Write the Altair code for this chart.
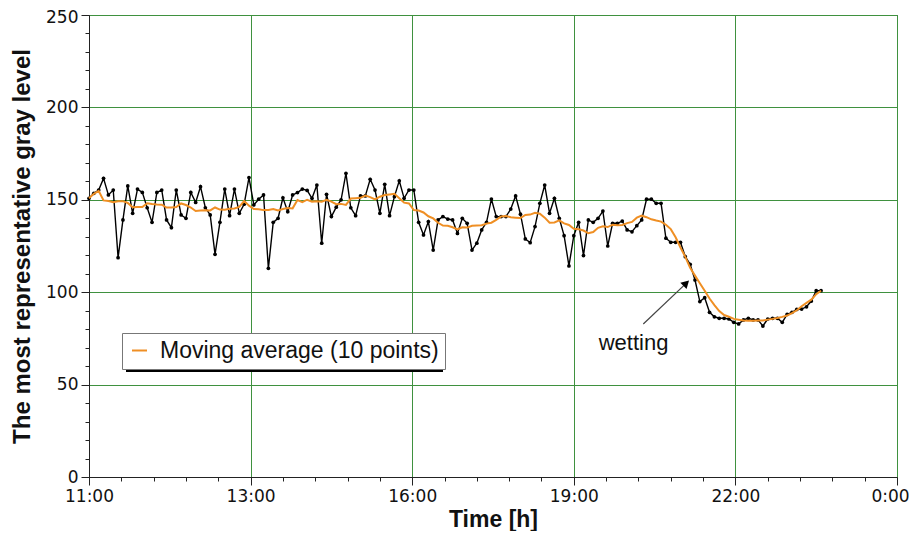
import json
import altair as alt
import pandas as pd

# ---------------- data ----------------
x_labels = ["11:00", "13:00", "16:00", "19:00", "22:00", "0:00"]
sample_step = 0.03  # spacing of the samples, in units of one major x division

gray = [
    150.8, 153.5, 155.3, 161.6, 152.6, 155.3, 118.7, 139.1, 157.5, 142.7,
    155.8, 154.0, 145.7, 137.8, 154.0, 155.3, 139.1, 134.9, 155.3, 141.8,
    140.0, 154.0, 148.6, 157.1, 145.7, 141.8, 120.5, 137.8, 155.8, 141.4,
    155.8, 142.7, 147.6, 162.0, 147.2, 150.3, 152.6, 112.9, 137.8, 140.0,
    151.1, 143.6, 152.6, 153.9, 155.8, 155.1, 150.8, 158.0, 126.5, 153.0,
    140.9, 146.0, 150.0, 164.3, 145.7, 141.4, 152.1, 152.1, 161.1, 155.3,
    142.7, 158.4, 141.4, 151.7, 160.3, 150.8, 155.3, 155.3, 137.8, 131.0,
    138.2, 122.8, 139.1, 140.9, 139.6, 139.1, 131.8, 140.0, 137.3, 122.8,
    126.5, 133.7, 137.8, 150.4, 140.9, 140.9, 140.9, 145.0, 152.1, 142.2,
    128.8, 126.8, 135.5, 148.1, 158.0, 142.7, 150.8, 140.0, 130.6, 114.2,
    130.6, 137.8, 119.8, 139.1, 137.8, 140.0, 143.9, 125.0, 137.3, 137.3,
    138.5, 133.7, 132.7, 136.0, 139.1, 150.3, 150.3, 148.1, 148.1, 129.2,
    127.0, 127.0, 127.0, 119.2, 115.1, 106.6, 94.9, 97.0, 89.1, 86.7,
    85.9, 85.9, 85.5, 83.7, 82.8, 85.0, 85.9, 85.0, 85.0, 81.7,
    85.5, 85.9, 85.9, 83.7, 88.0, 89.1, 90.7, 90.9, 92.1, 95.2,
    100.8, 100.8,
]

legend_label = "Moving average (10 points)"
annotation_text = ["wetting"]
annotation_x = [3.37]
annotation_y = [72.5]
arrow_x0 = [3.43]
arrow_y0 = [82.8]
arrow_x1 = [3.69]
arrow_y1 = [104.4]

x_tick_values = [round(i * 0.2, 1) for i in range(26)]
y_tick_values = list(range(0, 251, 10))

# ---------------- styling ----------------
ORANGE = "#ef8f24"
GRID = "#3f913f"
W, H = 808, 462

df = pd.DataFrame({
    "t": [i * sample_step for i in range(len(gray))],
    "v": gray,
    "series": legend_label,
})
ann_df = pd.DataFrame({"x": annotation_x, "y": annotation_y, "label": annotation_text})
arrow_df = pd.DataFrame({"x0": arrow_x0, "y0": arrow_y0, "x1": arrow_x1, "y1": arrow_y1})

x_major = "abs(datum.value - round(datum.value)) < 0.001"
x_last = "datum.value > 4.99"
y_major = "datum.value % 50 === 0"
y_top = "datum.value >= 250"

common_axis = dict(
    labelFont="DejaVu Sans", labelFontSize=17, labelColor="#111",
    titleFont="Liberation Sans", titleFontWeight="bold", titleColor="#111",
    domainColor="#222", tickColor="#222", gridColor=GRID, gridWidth=1,
    labelOverlap=False, labelFlush=False, labelPadding=3,
)

x_axis = alt.Axis(
    values=x_tick_values,
    labelExpr=f"{x_major} ? {json.dumps(x_labels)}[round(datum.value)] : ''",
    labelOffset={"condition": {"test": x_last, "value": -7}, "value": 0},
    tickSize={"condition": {"test": x_major, "value": 8}, "value": 4},
    gridOpacity={"condition": {"test": x_major, "value": 1}, "value": 0},
    titlePadding=4, titleFontSize=23,
    **common_axis,
)
y_axis = alt.Axis(
    values=y_tick_values,
    labelExpr=f"{y_major} ? datum.label : ''",
    labelOffset={"condition": {"test": y_top, "value": 2}, "value": 0},
    tickSize={"condition": {"test": y_major, "value": 8}, "value": 4},
    gridOpacity={"condition": {"test": y_major, "value": 1}, "value": 0},
    titlePadding=11, titleFontSize=24,
    **common_axis,
)

xs = alt.Scale(domain=[0, 5], nice=False, zero=False)
ys = alt.Scale(domain=[0, 250], nice=False)


def X(field):
    return alt.X(f"{field}:Q", scale=xs, axis=x_axis, title="Time [h]")


def Y(field):
    return alt.Y(f"{field}:Q", scale=ys, axis=y_axis, title="The most representative gray level")


base = alt.Chart(df)

raw_line = base.mark_line(color="black", strokeWidth=1.4).encode(x=X("t"), y=Y("v"))
raw_pts = base.mark_circle(color="black", size=14, opacity=1).encode(x=X("t"), y=Y("v"))

srt = [alt.SortField("t")]
ma = (
    base.transform_window(m1="mean(v)", frame=[-1, 1], sort=srt)
    .transform_window(m2="mean(v)", frame=[-2, 2], sort=srt)
    .transform_window(m3="mean(v)", frame=[-3, 3], sort=srt)
    .transform_window(m4="mean(v)", frame=[-4, 4], sort=srt)
    .transform_window(m5="mean(v)", frame=[-5, 4], sort=srt)
    .transform_window(idx="row_number()", sort=srt)
    .transform_joinaggregate(n="count()")
    .transform_calculate(k="min(datum.idx - 1, datum.n - datum.idx, 5)")
    .transform_calculate(
        ma="datum.k == 0 ? datum.v : datum.k == 1 ? datum.m1 : datum.k == 2 ? datum.m2 : "
           "datum.k == 3 ? datum.m3 : datum.k == 4 ? datum.m4 : datum.m5"
    )
    .mark_line(strokeWidth=2)
    .encode(
        x=X("t"),
        y=Y("ma"),
        color=alt.Color(
            "series:N",
            scale=alt.Scale(domain=[legend_label], range=[ORANGE]),
            legend=alt.Legend(
                title=None, orient="none", legendX=33, legendY=318,
                fillColor="white", strokeColor="#777", padding=6,
                symbolType="stroke", symbolSize=225, symbolStrokeWidth=2,
                labelFont="Liberation Sans", labelFontSize=23, labelColor="#111",
                labelOffset=9, labelLimit=0, cornerRadius=0,
            ),
        ),
    )
)

shadow = alt.Chart(df).mark_rect(color="black", opacity=1).encode(
    x=alt.value(37), x2=alt.value(354), y=alt.value(322), y2=alt.value(357)
)

arrow_line = alt.Chart(arrow_df).mark_rule(color="#444", strokeWidth=1.2).encode(
    x=X("x0"), y=Y("y0"), x2="x1", y2="y1"
)
arrow_head = alt.Chart(arrow_df).mark_point(
    shape="triangle", filled=True, size=80, angle=46, color="black", opacity=1
).encode(x=X("x1"), y=Y("y1"))
label = alt.Chart(ann_df).mark_text(
    font="Liberation Sans", fontSize=22, color="#111", align="center", baseline="middle"
).encode(x=X("x"), y=Y("y"), text="label:N")

chart = (
    alt.layer(raw_line, raw_pts, ma, shadow, arrow_line, arrow_head, label)
    .properties(
        width=W, height=H,
        autosize=alt.AutoSizeParams(type="none"),
        padding={"left": 81, "top": 7, "right": 12, "bottom": 54},
    )
    .configure_view(stroke="#333", strokeWidth=1)
)

chart.save("out.html", embed_options={"renderer": "svg", "actions": False})
